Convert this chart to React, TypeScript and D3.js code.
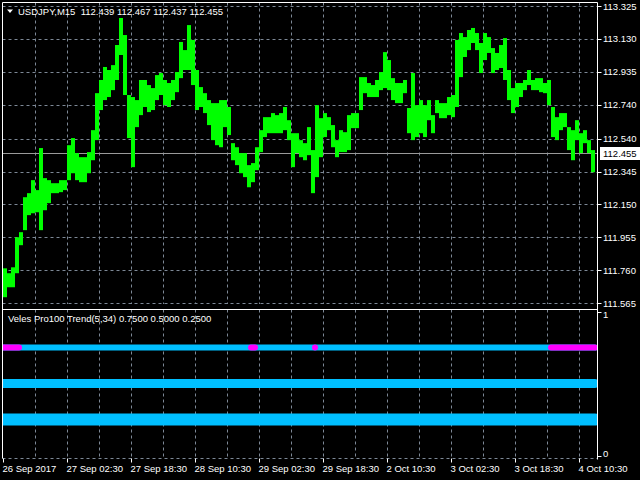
import { useRef, useEffect } from 'react';
import * as d3 from 'd3';

// header texts
const symbolTitle = 'USDJPY,M15  112.439 112.467 112.437 112.455';
const indicatorTitle = 'Veles Pro100 Trend(5,34) 0.7500 0.5000 0.2500';
const lastPrice = 112.455;

// right price scale labels
const priceTicks = [113.325, 113.13, 112.935, 112.74, 112.54, 112.345, 112.15, 111.955, 111.76, 111.565];

// bottom time labels, one every 16 hours
const timeLabels = [
  '26 Sep 2017',
  '27 Sep 02:30',
  '27 Sep 18:30',
  '28 Sep 10:30',
  '29 Sep 02:30',
  '29 Sep 18:30',
  '2 Oct 10:30',
  '3 Oct 02:30',
  '3 Oct 18:30',
  '4 Oct 10:30',
];

// hourly high / low
const hourHigh = [
  111.772, 111.743, 111.778, 111.956, 111.986, 112.193, 112.217, 112.294, 112.235, 112.484,
  112.306, 112.294, 112.276, 112.276, 112.294, 112.294, 112.501, 112.543, 112.454, 112.43,
  112.43, 112.46, 112.59, 112.809, 112.887, 112.964, 112.946, 112.975, 113.094, 113.254,
  113.153, 112.798, 112.786, 112.768, 112.887, 112.887, 112.857, 112.839, 112.916, 112.928,
  112.887, 112.869, 112.887, 112.934, 113.112, 113.064, 113.212, 113.124, 112.946, 112.845,
  112.809, 112.768, 112.75, 112.75, 112.768, 112.768, 112.727, 112.513, 112.489, 112.454,
  112.454, 112.383, 112.395, 112.489, 112.59, 112.667, 112.667, 112.691, 112.679, 112.691,
  112.727, 112.649, 112.572, 112.572, 112.531, 112.513, 112.608, 112.472, 112.738, 112.661,
  112.691, 112.667, 112.62, 112.531, 112.59, 112.578, 112.679, 112.691, 112.691, 112.904,
  112.904, 112.869, 112.857, 112.887, 112.934, 113.052, 113.005, 112.898, 112.869, 112.869,
  112.887, 112.721, 112.928, 112.738, 112.768, 112.738, 112.768, 112.679, 112.768, 112.75,
  112.75, 112.786, 112.798, 113.124, 113.165, 113.141, 113.183, 113.195, 113.165, 113.106,
  113.165, 113.141, 113.076, 113.047, 113.094, 113.135, 112.946, 112.839, 112.869, 112.869,
  112.887, 112.946, 112.887, 112.898, 112.898, 112.869, 112.887, 112.727, 112.667, 112.691,
  112.691, 112.608, 112.59, 112.649, 112.572, 112.59, 112.531, 112.472,
];
const hourLow = [
  111.601, 111.66, 111.66, 111.743, 111.909, 111.998, 112.087, 112.098, 112.104, 111.998,
  112.116, 112.158, 112.217, 112.217, 112.223, 112.235, 112.294, 112.335, 112.294, 112.282,
  112.282, 112.335, 112.412, 112.531, 112.709, 112.768, 112.786, 112.827, 112.887, 113.035,
  112.798, 112.543, 112.371, 112.608, 112.679, 112.727, 112.697, 112.709, 112.768, 112.798,
  112.738, 112.727, 112.768, 112.815, 112.898, 112.946, 112.946, 112.857, 112.709, 112.727,
  112.691, 112.62, 112.531, 112.501, 112.489, 112.608, 112.561, 112.412, 112.383, 112.335,
  112.312, 112.252, 112.282, 112.353, 112.46, 112.549, 112.572, 112.572, 112.572, 112.572,
  112.59, 112.531, 112.371, 112.454, 112.43, 112.412, 112.442, 112.217, 112.312, 112.43,
  112.549, 112.59, 112.489, 112.43, 112.46, 112.46, 112.472, 112.602, 112.602, 112.709,
  112.809, 112.786, 112.786, 112.786, 112.827, 112.839, 112.827, 112.768, 112.75, 112.75,
  112.809, 112.572, 112.531, 112.549, 112.572, 112.549, 112.649, 112.572, 112.691, 112.661,
  112.661, 112.679, 112.667, 112.727, 112.904, 113.023, 113.064, 113.106, 113.064, 112.928,
  113.005, 113.047, 112.928, 112.946, 112.958, 112.887, 112.768, 112.691, 112.727, 112.786,
  112.827, 112.857, 112.827, 112.827, 112.815, 112.809, 112.738, 112.549, 112.531, 112.59,
  112.608, 112.472, 112.412, 112.531, 112.454, 112.513, 112.454, 112.341,
];

// indicator levels and the hour ranges where the top level turns bearish
const trendLevels = [0.75, 0.5, 0.25];
const bearishRuns = [
  [0, 4],
  [62, 63],
  [78, 78],
  [137, 148],
];

const W = 640;
const H = 480;

export default function App() {
  const svgRef = useRef<SVGSVGElement>(null);

  useEffect(() => {
    if (!svgRef.current) return;
    const svg = d3.select(svgRef.current);
    svg.selectAll('*').remove();

    const font = 'Liberation Sans, Arial, sans-serif';
    const gridColor = '#7d8896';
    const left = 2.5;
    const right = 597.5;
    const mainTop = 2.5;
    const subTop = 309.5;
    const subBottom = 458.5;

    const n = hourHigh.length;
    const x = d3.scaleLinear().domain([0, n]).range([3, 595]);
    const y = d3
      .scaleLinear()
      .domain([d3.min(priceTicks)!, d3.max(priceTicks)!])
      .range([303.3, 6]);
    const yInd = d3.scaleLinear().domain([0, 1]).range([455.5, 311.5]);
    const px = (v: number) => Math.round(v) + 0.5;

    svg.append('rect').attr('width', W).attr('height', H).attr('fill', '#000');

    // vertical grid, every 8 hours
    const gridHours = d3.range(8, n, 8);
    [
      [mainTop, 304],
      [subTop, subBottom],
    ].forEach(([y0, y1]) => {
      svg
        .append('g')
        .selectAll('line')
        .data(gridHours)
        .join('line')
        .attr('x1', (d) => px(x(d)))
        .attr('x2', (d) => px(x(d)))
        .attr('y1', y0)
        .attr('y2', y1)
        .attr('stroke', gridColor)
        .attr('stroke-dasharray', '3,3');
    });

    // horizontal grid
    svg
      .append('g')
      .selectAll('line')
      .data(priceTicks)
      .join('line')
      .attr('x1', left)
      .attr('x2', right)
      .attr('y1', (d) => px(y(d)))
      .attr('y2', (d) => px(y(d)))
      .attr('stroke', gridColor)
      .attr('stroke-dasharray', '3,3');

    svg
      .append('line')
      .attr('x1', left)
      .attr('x2', right)
      .attr('y1', subBottom)
      .attr('y2', subBottom)
      .attr('stroke', gridColor)
      .attr('stroke-dasharray', '3,3');

    // current price line
    svg
      .append('line')
      .attr('x1', left)
      .attr('x2', right)
      .attr('y1', px(y(lastPrice)))
      .attr('y2', px(y(lastPrice)))
      .attr('stroke', '#9a9a9a');

    // price bars, one per hour
    svg
      .append('g')
      .selectAll('rect')
      .data(hourHigh.map((h, i) => ({ i, h, l: hourLow[i] })))
      .join('rect')
      .attr('x', (d) => x(d.i))
      .attr('width', x(1) - x(0))
      .attr('y', (d) => y(d.h))
      .attr('height', (d) => Math.max(1, y(d.l) - y(d.h)))
      .attr('fill', '#00ff00');

    // indicator panel
    const clip = svg.append('clipPath').attr('id', 'subclip');
    clip
      .append('rect')
      .attr('x', left + 0.5)
      .attr('y', subTop + 0.5)
      .attr('width', right - left - 1)
      .attr('height', subBottom - subTop - 1);
    const sub = svg.append('g').attr('clip-path', 'url(#subclip)');

    const widths = [6, 9, 12];
    trendLevels.forEach((lv, k) => {
      sub
        .append('line')
        .attr('x1', x(0))
        .attr('x2', x(n))
        .attr('y1', yInd(lv))
        .attr('y2', yInd(lv))
        .attr('stroke', '#00bfff')
        .attr('stroke-width', widths[k])
        .attr('stroke-linecap', 'round');
    });

    sub
      .append('g')
      .selectAll('path')
      .data(bearishRuns)
      .join('path')
      .attr('d', ([a, b]) => `M${x(a)},${yInd(trendLevels[0])}H${x(b) + 0.01}`)
      .attr('fill', 'none')
      .attr('stroke', '#ff00ff')
      .attr('stroke-width', widths[0])
      .attr('stroke-linecap', 'round');

    // frame
    const frame = svg.append('g').attr('stroke', '#fff').attr('fill', 'none');
    frame.append('line').attr('x1', left).attr('x2', left).attr('y1', mainTop).attr('y2', subBottom);
    frame.append('line').attr('x1', right).attr('x2', right).attr('y1', mainTop).attr('y2', subBottom + 1);
    frame.append('line').attr('x1', left).attr('x2', right).attr('y1', mainTop).attr('y2', mainTop);
    frame.append('line').attr('x1', left).attr('x2', right).attr('y1', subTop).attr('y2', subTop);

    // right price axis
    svg
      .append('g')
      .selectAll('line')
      .data(priceTicks)
      .join('line')
      .attr('x1', right)
      .attr('x2', right + 4)
      .attr('y1', (d) => px(y(d)))
      .attr('y2', (d) => px(y(d)))
      .attr('stroke', '#fff');

    svg
      .append('g')
      .selectAll('text')
      .data(priceTicks)
      .join('text')
      .attr('x', 603)
      .attr('y', (d) => y(d))
      .attr('dominant-baseline', 'central')
      .attr('font-family', font)
      .attr('font-size', 9.5)
      .attr('fill', '#fff')
      .text((d) => d.toFixed(3));

    const yl = px(y(lastPrice));
    svg
      .append('rect')
      .attr('x', 600)
      .attr('y', yl - 6.5)
      .attr('width', 40)
      .attr('height', 13)
      .attr('fill', '#fff');
    svg
      .append('text')
      .attr('x', 603)
      .attr('y', yl)
      .attr('dominant-baseline', 'central')
      .attr('font-family', font)
      .attr('font-size', 9.5)
      .attr('fill', '#000')
      .text(lastPrice.toFixed(3));

    // indicator scale labels
    [1, 0].forEach((v) => {
      svg
        .append('line')
        .attr('x1', right)
        .attr('x2', right + 4)
        .attr('y1', px(yInd(v)))
        .attr('y2', px(yInd(v)))
        .attr('stroke', '#fff');
      svg
        .append('text')
        .attr('x', 603)
        .attr('y', v === 1 ? yInd(v) + 3 : yInd(v) - 2)
        .attr('dominant-baseline', 'central')
        .attr('font-family', font)
        .attr('font-size', 9.5)
        .attr('fill', '#fff')
        .text(v);
    });

    // time axis
    const tg = svg.append('g');
    timeLabels.forEach((label, i) => {
      const tx = px(x(i * 16));
      tg.append('line')
        .attr('x1', tx)
        .attr('x2', tx)
        .attr('y1', subBottom)
        .attr('y2', subBottom + 4)
        .attr('stroke', '#fff');
      tg.append('text')
        .attr('x', tx - 1)
        .attr('y', 468.5)
        .attr('dominant-baseline', 'central')
        .attr('font-family', font)
        .attr('font-size', 9.5)
        .attr('fill', '#fff')
        .text(label);
    });

    // titles
    svg
      .append('path')
      .attr('d', 'M7,9.5L13,9.5L10,13Z')
      .attr('fill', '#fff');
    svg
      .append('text')
      .attr('x', 18)
      .attr('y', 11)
      .attr('dominant-baseline', 'central')
      .attr('font-family', font)
      .attr('font-size', 9.5)
      .attr('fill', '#fff')
      .attr('xml:space', 'preserve')
      .style('white-space', 'pre')
      .text(symbolTitle);
    svg
      .append('text')
      .attr('x', 8)
      .attr('y', 318)
      .attr('dominant-baseline', 'central')
      .attr('font-family', font)
      .attr('font-size', 9.5)
      .attr('fill', '#fff')
      .text(indicatorTitle);
  }, []);

  return (
    <svg
      ref={svgRef}
      width={W}
      height={H}
      style={{ position: 'absolute', left: 0, top: 0, background: '#000' }}
    />
  );
}
